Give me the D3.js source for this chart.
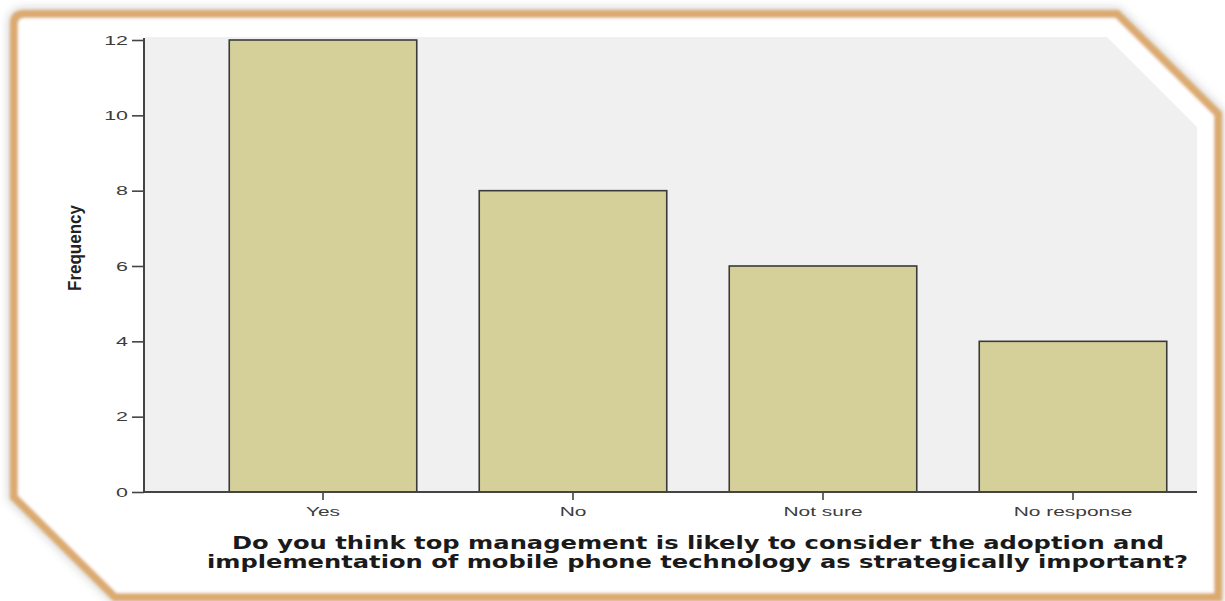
<!DOCTYPE html>
<html>
<head>
<meta charset="utf-8">
<script src="https://cdn.jsdelivr.net/npm/d3@7"></script>
<style>
  html, body { margin: 0; padding: 0; background: #ffffff; }
  svg { display: block; }
</style>
</head>
<body>
<svg id="chart" width="1225" height="601"></svg>
<script>
// Survey responses: frequency of each answer
const categories = ["Yes", "No", "Not sure", "No response"];
const frequencies = [12, 8, 6, 4];
const yTicks = [0, 2, 4, 6, 8, 10, 12];
const yTitle = "Frequency";
const xTitleLines = [
  "Do you think top management is likely to consider the adoption and",
  "implementation of mobile phone technology as strategically important?"
];

const svg = d3.select("#chart");

const defs = svg.append("defs");
const glow = defs.append("filter").attr("id", "soft")
  .attr("x", "-5%").attr("y", "-5%").attr("width", "110%").attr("height", "110%");
glow.append("feGaussianBlur").attr("stdDeviation", 1.6);
const halo = defs.append("filter").attr("id", "halo")
  .attr("x", "-5%").attr("y", "-5%").attr("width", "110%").attr("height", "110%");
halo.append("feGaussianBlur").attr("stdDeviation", 4);

// Beveled picture frame
const framePath = "M 24 14 L 1117 14 L 1218 114 L 1218 597 L 115 597 L 14 497 L 14 24 Q 14 14 24 14 Z";
svg.append("path").attr("d", framePath)
  .attr("fill", "none").attr("stroke", "#cfcfcf").attr("stroke-width", 14)
  .attr("filter", "url(#halo)").attr("opacity", 0.7);
svg.append("path").attr("d", framePath)
  .attr("fill", "#ffffff").attr("stroke", "#dcaa6e").attr("stroke-width", 8)
  .attr("filter", "url(#soft)");
svg.append("path").attr("d", "M 118 592.5 L 1213 592.5")
  .attr("stroke", "#b9b9b9").attr("stroke-width", 1.5).attr("filter", "url(#soft)");

// Plot geometry
const plotLeft = 145, plotRight = 1197, plotTop = 37, plotBottom = 492;

const y = d3.scaleLinear().domain([0, 12]).range([plotBottom, 40]);
const x = d3.scaleBand().domain(categories).range([198, 1198])
  .paddingInner(0.25).paddingOuter(0.125);

// Plot background, clipped along the frame's bevel
svg.append("path")
  .attr("d", `M ${plotLeft} ${plotTop} L 1107 ${plotTop} L ${plotRight} 127 L ${plotRight} ${plotBottom} L ${plotLeft} ${plotBottom} Z`)
  .attr("fill", "#f0f0f0");

// Bars
svg.append("g").selectAll("rect")
  .data(categories.map((c, i) => ({ c, v: frequencies[i] })))
  .join("rect")
  .attr("x", d => x(d.c))
  .attr("y", d => y(d.v))
  .attr("width", x.bandwidth())
  .attr("height", d => y(0) - y(d.v))
  .attr("fill", "#d5d09a")
  .attr("stroke", "#3a3a3a")
  .attr("stroke-width", 1.6);

// Y axis
const yAxis = svg.append("g")
  .attr("transform", `translate(144,0)`)
  .call(d3.axisLeft(y).tickValues(yTicks).tickSize(12).tickPadding(4).tickSizeOuter(0));
yAxis.select(".domain").attr("d", `M0,${plotTop + 1}V${plotBottom}`)
  .attr("stroke", "#444").attr("stroke-width", 2);
yAxis.selectAll(".tick line").attr("stroke", "#444").attr("stroke-width", 1.6);
yAxis.selectAll(".tick text")
  .attr("x", 0)
  .attr("font-family", "Liberation Sans, Arial, sans-serif")
  .attr("font-size", 13).attr("fill", "#3c3c3c")
  .attr("transform", "translate(-16,0) scale(1.65,1)");

// X axis
const xAxis = svg.append("g")
  .attr("transform", `translate(0,${plotBottom})`)
  .call(d3.axisBottom(x).tickSize(8).tickPadding(6).tickSizeOuter(0));
xAxis.select(".domain").attr("d", `M144,0H${plotRight}`)
  .attr("stroke", "#444").attr("stroke-width", 2);
xAxis.selectAll(".tick line").attr("stroke", "#444").attr("stroke-width", 1.6);
xAxis.selectAll(".tick text")
  .attr("font-family", "Liberation Sans, Arial, sans-serif")
  .attr("font-size", 13.5).attr("fill", "#3c3c3c")
  .attr("transform", "scale(1.55,1)");

// Axis titles
svg.append("text")
  .attr("transform", "translate(81,248) rotate(-90)")
  .attr("text-anchor", "middle")
  .attr("font-family", "Liberation Sans Narrow, Arial Narrow, sans-serif")
  .attr("font-weight", "bold").attr("font-size", 19)
  .attr("textLength", 86).attr("lengthAdjust", "spacingAndGlyphs")
  .attr("fill", "#222")
  .text(yTitle);

const titleSpecs = [
  { x: 232, y: 549, w: 932 },
  { x: 207, y: 568, w: 981 }
];
svg.append("g").selectAll("text")
  .data(xTitleLines)
  .join("text")
  .attr("x", (d, i) => titleSpecs[i].x)
  .attr("y", (d, i) => titleSpecs[i].y)
  .attr("textLength", (d, i) => titleSpecs[i].w)
  .attr("lengthAdjust", "spacingAndGlyphs")
  .attr("font-family", "DejaVu Sans, Verdana, sans-serif")
  .attr("font-weight", "bold").attr("font-size", 18.5)
  .attr("fill", "#1a1a1a")
  .text(d => d);
</script>
</body>
</html>
